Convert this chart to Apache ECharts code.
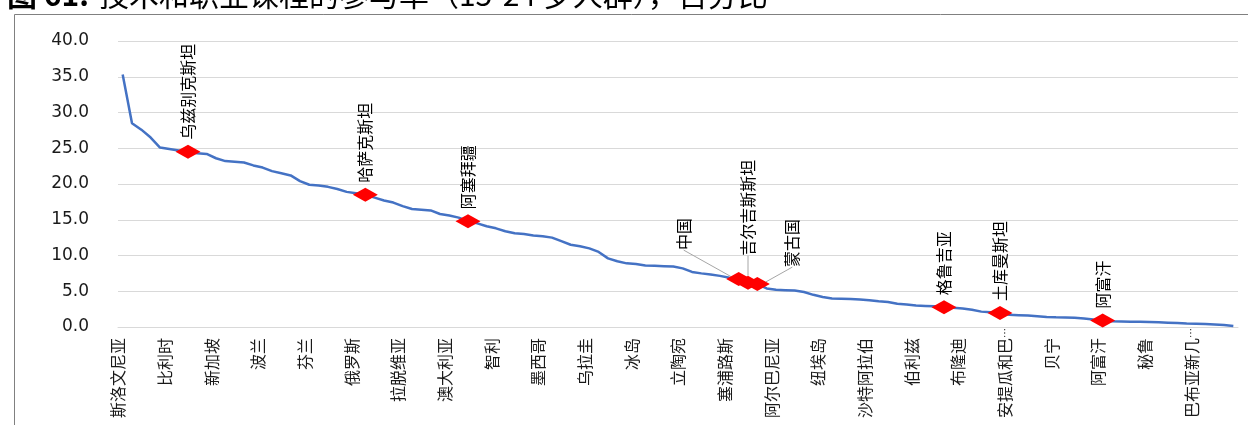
<!DOCTYPE html>
<html>
<head>
<meta charset="utf-8">
<script src="https://cdn.jsdelivr.net/npm/echarts@6/dist/echarts.min.js"></script>
<style>
  html, body { margin: 0; padding: 0; background: #fff; }
  #chart { width: 1248px; height: 425px; }
</style>
</head>
<body>
<div id="chart"></div>
<script>
// Participation rate in technical and vocational programmes, ages 15-24 (%), countries sorted high to low
const participation = [
  35.3, 28.5, 27.6, 26.5, 25.1, 24.9, 24.7, 24.5, 24.3, 24.2,
  23.6, 23.2, 23.1, 23.0, 22.6, 22.3, 21.8, 21.5, 21.2, 20.4,
  19.9, 19.8, 19.6, 19.3, 18.9, 18.7, 18.5, 18.1, 17.7, 17.4,
  16.9, 16.5, 16.4, 16.3, 15.8, 15.6, 15.3, 14.8, 14.5, 14.1,
  13.8, 13.4, 13.1, 13.0, 12.8, 12.7, 12.5, 12.0, 11.5, 11.3,
  11.0, 10.5, 9.6, 9.2, 8.9, 8.8, 8.6, 8.55, 8.5, 8.45,
  8.2, 7.7, 7.5, 7.35, 7.15, 6.9, 6.7, 6.2, 6.0, 5.4,
  5.2, 5.15, 5.1, 4.9, 4.5, 4.2, 4.0, 3.95, 3.9, 3.85,
  3.75, 3.6, 3.5, 3.25, 3.15, 3.0, 2.95, 2.9, 2.75, 2.7,
  2.6, 2.4, 2.15, 2.05, 1.95, 1.7, 1.65, 1.6, 1.5, 1.4,
  1.35, 1.33, 1.3, 1.2, 1.05, 0.92, 0.8, 0.78, 0.75, 0.73,
  0.7, 0.65, 0.6, 0.55, 0.5, 0.46, 0.42, 0.36, 0.28, 0.14
];

// Every fifth country carries an axis label
const tickLabels = [
  '斯洛文尼亚', '比利时', '新加坡', '波兰', '芬兰', '俄罗斯',
  '拉脱维亚', '澳大利亚', '智利', '墨西哥', '乌拉圭', '冰岛',
  '立陶宛', '塞浦路斯', '阿尔巴尼亚', '纽埃岛', '沙特阿拉伯', '伯利兹',
  '布隆迪', '安提瓜和巴布达', '贝宁', '阿富汗', '秘鲁', '巴布亚新几内亚'
];
const tickStep = 5;
const maxLabelChars = 5;

// Highlighted countries and their rank position in the sorted list
const highlightNames = ['乌兹别克斯坦', '哈萨克斯坦', '阿塞拜疆', '中国', '吉尔吉斯斯坦', '蒙古国', '格鲁吉亚', '土库曼斯坦', '阿富汗'];
const highlightRanks = [7, 26, 37, 66, 67, 68, 88, 94, 105];

const yTicks = [0, 5, 10, 15, 20, 25, 30, 35, 40];

// Category list: labelled slots plus highlighted countries, the rest unnamed
const categories = participation.map(() => '');
tickLabels.forEach((name, i) => { categories[i * tickStep] = name; });
highlightNames.forEach((name, i) => { categories[highlightRanks[i]] = name; });

// Labels in the crowded cluster are pulled aside with guide lines.
// Labels are rotated 90°, so dx moves along the text (upwards) and dy sideways (rightwards).
const labelShift = {
  '中国': { dx: 17, dy: -55 },
  '吉尔吉斯斯坦': { dx: 15, dy: 0 },
  '蒙古国': { dx: 5, dy: 35 }
};

const highlightData = highlightNames.map((name, i) => ({
  name: name,
  value: [highlightRanks[i], participation[highlightRanks[i]]],
  labelLine: { show: !!labelShift[name] }
}));

// Each axis name ends in a short slot next to the axis; cut names show an ellipsis there
function shortName(name) {
  return name.length > maxLabelChars
    ? name.slice(0, maxLabelChars) + '{e|…}'
    : name + '{s| }';
}

const chart = echarts.init(document.getElementById('chart'), null, { renderer: 'canvas' });

chart.setOption({
  animation: false,
  backgroundColor: '#ffffff',
  title: {
    text: '{b|图 61:}  {r|技术和职业课程的参与率（15-24 岁人群），百分比}',
    left: 2,
    top: -25,
    textStyle: {
      rich: {
        b: { fontFamily: 'Noto Sans CJK SC', fontWeight: 'bold', fontSize: 30, color: '#000' },
        r: { fontFamily: 'Noto Sans CJK SC', fontWeight: 'normal', fontSize: 30, color: '#000' }
      }
    }
  },
  graphic: [{
    type: 'rect',
    left: 12,
    top: 12,
    z: -1,
    shape: { width: 1300, height: 500 },
    style: { fill: 'none', stroke: '#808080', lineWidth: 1 }
  }],
  grid: {
    left: 118,
    right: 10,
    top: 41,
    bottom: 98,
    containLabel: false,
    outerBoundsMode: 'none'
  },
  xAxis: {
    type: 'category',
    data: categories,
    boundaryGap: true,
    axisLine: { show: true, lineStyle: { color: '#d9d9d9', width: 1 } },
    axisTick: { show: false },
    axisLabel: {
      interval: tickStep - 1,
      rotate: 90,
      margin: 1,
      verticalAlign: 'bottom',
      lineHeight: 9,
      fontFamily: 'Noto Sans CJK SC',
      fontSize: 16,
      color: '#1a1a1a',
      formatter: shortName,
      rich: {
        e: { fontFamily: 'Noto Sans CJK SC', fontSize: 10, lineHeight: 9, width: 10, align: 'center', color: '#1a1a1a' },
        s: { fontFamily: 'Noto Sans CJK SC', fontSize: 10, lineHeight: 9, width: 10 }
      }
    },
    splitLine: { show: false }
  },
  yAxis: {
    type: 'value',
    min: yTicks[0],
    max: yTicks[yTicks.length - 1],
    interval: yTicks[1] - yTicks[0],
    axisLine: { show: false },
    axisTick: { show: false },
    axisLabel: {
      margin: 29,
      fontFamily: 'DejaVu Sans',
      fontSize: 17,
      color: '#1a1a1a',
      formatter: v => v.toFixed(1)
    },
    splitLine: { lineStyle: { color: '#d9d9d9', width: 1 } }
  },
  series: [
    {
      type: 'line',
      data: participation,
      symbol: 'none',
      lineStyle: { color: '#4472c4', width: 2.5 },
      z: 2
    },
    {
      type: 'scatter',
      data: highlightData,
      symbol: 'diamond',
      symbolSize: [25, 14],
      itemStyle: { color: '#ff0000', opacity: 1 },
      z: 3,
      label: {
        show: true,
        position: 'top',
        distance: 5,
        rotate: 90,
        align: 'left',
        verticalAlign: 'middle',
        formatter: p => p.name,
        fontFamily: 'Noto Sans CJK SC',
        fontSize: 16,
        color: '#000'
      },
      labelLine: {
        show: false,
        lineStyle: { color: '#a6a6a6', width: 1 }
      },
      labelLayout: p => labelShift[p.text] || {}
    }
  ]
});
</script>
</body>
</html>
